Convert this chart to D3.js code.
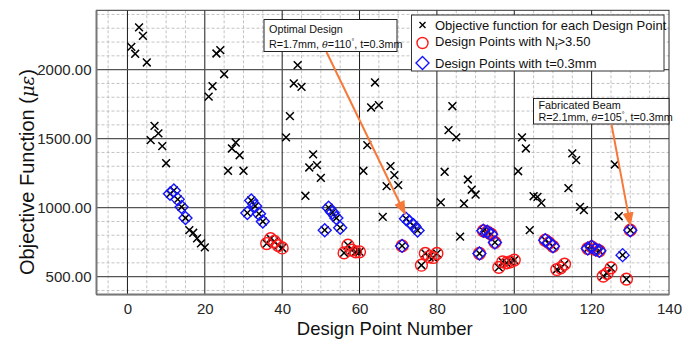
<!DOCTYPE html>
<html>
<head>
<meta charset="utf-8">
<script src="https://cdn.jsdelivr.net/npm/d3@7"></script>
<style>
  html, body { margin: 0; padding: 0; background: #fff; }
  svg { display: block; font-family: "Liberation Sans", Arial, sans-serif; }
</style>
</head>
<body>
<svg id="chart" width="697" height="347"></svg>
<script>
// Objective function value (micro-strain) for design points 1..130, in order
const objectiveValues = [
  2165, 2115, 2306, 2245, 2052, 1489, 1593, 1538, 1446, 1322,
  1100, 1125, 1060, 1005, 925, 837, 818, 777, 741, 712,
  1805, 1880, 2117, 2141, 1967, 1267, 1429, 1472, 1380, 1267,
  962, 1052, 1012, 955, 900, 740, 775, 755, 725, 708,
  1509, 1663, 1900, 2033, 1875, 1086, 1291, 1386, 1308, 1216,
  837, 1000, 965, 925, 855, 672, 728, 692, 680, 680,
  1267, 1453, 1726, 1907, 1743, 933, 1156, 1301, 1236, 1163,
  723, 920, 895, 870, 835, 583, 668, 644, 639, 668,
  1038, 1260, 1562, 1735, 1509, 790, 1030, 1204, 1130, 1095,
  668, 832, 825, 808, 748, 567, 607, 600, 607, 620,
  1264, 1509, 1429, 837, 1083, 1078, 1035, 764, 745, 720,
  552, 564, 591, 1141, 1393, 1344, 1006, 982, 704, 716,
  697, 687, 504, 524, 564, 1313, 938, 656, 482, 837
];
// Design points whose fatigue life N_f exceeds 3.50
const fatiguePoints = [36, 37, 38, 39, 40, 56, 57, 58, 59, 60, 71, 76, 77, 78, 79, 80,
  91, 92, 93, 94, 95, 96, 97, 98, 99, 100, 108, 109, 110, 111, 112, 113,
  119, 120, 121, 122, 123, 124, 125, 129, 130];
// Design points with thickness t = 0.3 mm
const thinPoints = [11, 12, 13, 14, 15, 31, 32, 33, 34, 35, 51, 52, 53, 54, 55,
  71, 72, 73, 74, 75, 91, 92, 93, 94, 95, 108, 109, 110, 119, 120, 121, 122, 128, 130];

const xTicks = [0, 20, 40, 60, 80, 100, 120, 140];
const yTicks = [500, 1000, 1500, 2000];

const points = objectiveValues.map((v, i) => ({ n: i + 1, v }));
const byNumber = new Map(points.map(p => [p.n, p]));

const svg = d3.select("#chart");
const x = d3.scaleLinear().domain([-8, 140]).range([96.5, 669]);
const y = d3.scaleLinear().domain([370, 2430]).range([294.6, 10.3]);
const [x0, x1] = x.range();
const [y0, y1] = y.range();

const plot = svg.append("g");

// minor grid (dashed)
const xMinor = d3.range(-5, 140, 5).filter(d => d % 20 !== 0);
const yMinor = d3.range(400, 2430, 100).filter(d => d % 500 !== 0);
plot.selectAll(".vminor").data(xMinor).join("line")
  .attr("x1", d => x(d)).attr("x2", d => x(d)).attr("y1", y1).attr("y2", y0)
  .attr("stroke", "#b4b4b4").attr("stroke-width", 0.8).attr("stroke-dasharray", "3,2");
plot.selectAll(".hminor").data(yMinor).join("line")
  .attr("x1", x0).attr("x2", x1).attr("y1", d => y(d)).attr("y2", d => y(d))
  .attr("stroke", "#b4b4b4").attr("stroke-width", 0.8).attr("stroke-dasharray", "3,2");

// major grid
plot.selectAll(".vmajor").data(xTicks.filter(d => d < 140)).join("line")
  .attr("x1", d => x(d)).attr("x2", d => x(d)).attr("y1", y1).attr("y2", y0)
  .attr("stroke", "#1a1a1a").attr("stroke-width", 1);
plot.selectAll(".hmajor").data(yTicks).join("line")
  .attr("x1", x0).attr("x2", x1).attr("y1", d => y(d)).attr("y2", d => y(d))
  .attr("stroke", "#555").attr("stroke-width", 1.4);

// frame
plot.append("rect").attr("x", x0).attr("y", y1).attr("width", x1 - x0).attr("height", y0 - y1)
  .attr("fill", "none").attr("stroke", "#333").attr("stroke-width", 1);
plot.append("line").attr("x1", x0).attr("x2", x0).attr("y1", y1).attr("y2", y0)
  .attr("stroke", "#777").attr("stroke-width", 2);
plot.append("line").attr("x1", x0).attr("x2", x1).attr("y1", y0).attr("y2", y0)
  .attr("stroke", "#777").attr("stroke-width", 2);

// axes (labels only; grid draws the lines)
const xAxis = d3.axisBottom(x).tickValues(xTicks).tickFormat(d3.format("d")).tickSize(0).tickPadding(9);
svg.append("g").attr("transform", `translate(0,${y0})`).call(xAxis)
  .call(g => g.select(".domain").remove())
  .selectAll("text").attr("font-size", 15).attr("fill", "#262626")
  .attr("font-family", "Liberation Sans, Arial, sans-serif");
const yAxis = d3.axisLeft(y).tickValues(yTicks).tickFormat(d3.format(".2f")).tickSize(0).tickPadding(5);
svg.append("g").attr("transform", `translate(${x0},0)`).call(yAxis)
  .call(g => g.select(".domain").remove())
  .selectAll("text").attr("font-size", 15).attr("fill", "#262626")
  .attr("font-family", "Liberation Sans, Arial, sans-serif");

// axis titles
svg.append("text").attr("x", (x0 + x1) / 2 + 2).attr("y", 335)
  .attr("text-anchor", "middle").attr("font-size", 18.5).attr("fill", "#111")
  .text("Design Point Number");
const yTitle = svg.append("text")
  .attr("transform", `translate(34,172) rotate(-90)`)
  .attr("text-anchor", "middle").attr("font-size", 20).attr("fill", "#111");
yTitle.append("tspan").text("Objective Function (");
yTitle.append("tspan").attr("font-style", "italic").attr("font-family", "DejaVu Serif, serif").attr("font-size", 18).text("με");
yTitle.append("tspan").text(")");

// markers
const circleR = 5.9, diamondR = 6.5, crossR = 3.9;
const diamondPath = r => `M0,${-r}L${r},0L0,${r}L${-r},0Z`;
const crossPath = r => `M${-r},${-r}L${r},${r}M${-r},${r}L${r},${-r}`;

const marks = svg.append("g");
marks.selectAll(".cross").data(points).join("path")
  .attr("transform", d => `translate(${x(d.n)},${y(d.v)})`)
  .attr("d", crossPath(crossR)).attr("stroke", "#000").attr("stroke-width", 1.5).attr("fill", "none");
marks.selectAll(".nf").data(fatiguePoints.map(n => byNumber.get(n))).join("circle")
  .attr("cx", d => x(d.n)).attr("cy", d => y(d.v)).attr("r", circleR)
  .attr("fill", "none").attr("stroke", "#ff1a1a").attr("stroke-width", 1.4);
marks.selectAll(".thin").data(thinPoints.map(n => byNumber.get(n))).join("path")
  .attr("transform", d => `translate(${x(d.n)},${y(d.v)})`)
  .attr("d", diamondPath(diamondR)).attr("fill", "none").attr("stroke", "#1414ff").attr("stroke-width", 1.4);

// annotation callouts
const orange = "#f7793a";
svg.append("defs").append("marker").attr("id", "head").attr("viewBox", "0 0 10 10")
  .attr("refX", 9).attr("refY", 5).attr("markerWidth", 7).attr("markerHeight", 7)
  .attr("orient", "auto-start-reverse")
  .append("path").attr("d", "M0,1L10,5L0,9Z").attr("fill", orange);

function callout(box, title, rValue, thetaValue, target, line1, line2) {
  const g = svg.append("g");
  g.append("rect").attr("x", box[0]).attr("y", box[1]).attr("width", box[2]).attr("height", box[3])
    .attr("fill", "#fff").attr("stroke", "#222").attr("stroke-width", 1);
  g.append("text").attr("x", box[0] + 5).attr("y", box[1] + line1).attr("font-size", 10.8).attr("fill", "#111").text(title);
  const t = g.append("text").attr("x", box[0] + 5).attr("y", box[1] + line2).attr("font-size", 10.8).attr("fill", "#111");
  t.append("tspan").text(`R=${rValue}mm, `);
  t.append("tspan").attr("font-style", "italic").attr("font-family", "DejaVu Serif, serif").attr("font-size", 9.5).text("θ");
  t.append("tspan").text(`=${thetaValue}`);
  t.append("tspan").attr("dy", -4).attr("font-size", 7).text("°");
  t.append("tspan").attr("dy", 4).text(", t=0.3mm");
  return byNumber.get(target);
}

const p1 = callout([264, 19.5, 133, 32], "Optimal Design", "1.7", "110", 72, 13, 28);
svg.append("line")
  .attr("x1", 326.5).attr("y1", 52).attr("x2", x(p1.n) - 1).attr("y2", y(p1.v) - 5)
  .attr("stroke", orange).attr("stroke-width", 2).attr("marker-end", "url(#head)");

const p2 = callout([533.5, 98.5, 135.5, 25.5], "Fabricated Beam", "2.1", "105", 130, 10.5, 22.5);
svg.append("line")
  .attr("x1", 611.5).attr("y1", 124.5).attr("x2", x(p2.n)).attr("y2", y(p2.v) - 5)
  .attr("stroke", orange).attr("stroke-width", 2).attr("marker-end", "url(#head)");

// legend
const legend = svg.append("g");
legend.append("rect").attr("x", 411.5).attr("y", 15).attr("width", 252.5).attr("height", 56)
  .attr("fill", "#fff").attr("stroke", "#333").attr("stroke-width", 1);
const lx = 422.5;
legend.append("path").attr("transform", `translate(${lx},25)`).attr("d", crossPath(3))
  .attr("stroke", "#000").attr("stroke-width", 1.4).attr("fill", "none");
legend.append("circle").attr("cx", lx).attr("cy", 43).attr("r", 5.5)
  .attr("fill", "none").attr("stroke", "#ff1a1a").attr("stroke-width", 1.4);
legend.append("path").attr("transform", `translate(${lx},63)`).attr("d", diamondPath(6.5))
  .attr("fill", "none").attr("stroke", "#1414ff").attr("stroke-width", 1.4);
const lt = (yy) => legend.append("text").attr("x", 435).attr("y", yy).attr("font-size", 13).attr("fill", "#111");
lt(29.5).text("Objective function for each Design Point");
const l2 = lt(46);
l2.append("tspan").text("Design Points with N");
l2.append("tspan").attr("dy", 4).attr("font-size", 9).text("f");
l2.append("tspan").attr("dy", -4).text(">3.50");
lt(67.5).text("Design Points with t=0.3mm");
</script>
</body>
</html>
